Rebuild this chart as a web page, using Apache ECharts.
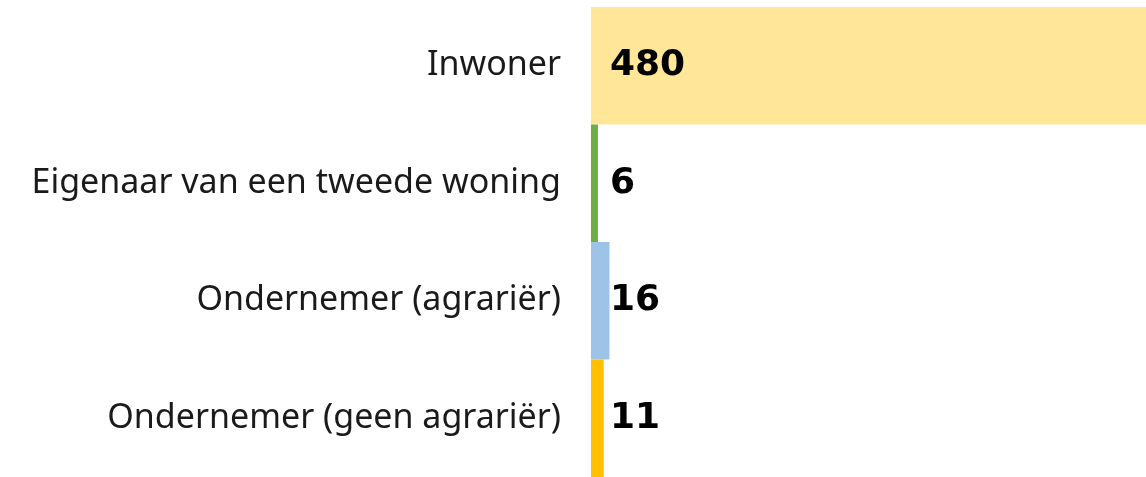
<!DOCTYPE html>
<html>
<head>
<meta charset="utf-8">
<script src="https://cdn.jsdelivr.net/npm/echarts@6/dist/echarts.min.js"></script>
<style>
  html, body { margin: 0; padding: 0; background: #fff; }
  #chart { width: 1146px; height: 477px; }
</style>
</head>
<body>
<div id="chart"></div>
<script>
// categorieën van boven naar beneden
var categories = ['Inwoner', 'Eigenaar van een tweede woning', 'Ondernemer (agrariër)', 'Ondernemer (geen agrariër)'];
var values = [480, 6, 16, 11];
var colors = ['#FFE699', '#70AD47', '#9DC3E6', '#FFC000'];

var myChart = echarts.init(document.getElementById('chart'));
var option = {
    animation: false,
    grid: {
        left: 591,
        right: 0,
        top: 7,
        bottom: -3
    },
    xAxis: {
        type: 'value',
        min: 0,
        max: 480,
        show: false
    },
    yAxis: {
        type: 'category',
        inverse: true,
        data: categories,
        axisLine: { show: false },
        axisTick: { show: false },
        axisLabel: {
            margin: 30,
            color: '#1a1a1a',
            fontFamily: 'Noto Sans',
            fontSize: 34
        }
    },
    series: [
        {
            type: 'bar',
            barCategoryGap: 0,
            data: values.map(function (v, i) {
                return { value: v, itemStyle: { color: colors[i] } };
            }),
            label: {
                show: true,
                position: 'insideLeft',
                distance: 19,
                color: '#000',
                fontFamily: 'DejaVu Sans',
                fontWeight: 'bold',
                fontSize: 36
            }
        }
    ]
};
myChart.setOption(option);
</script>
</body>
</html>
